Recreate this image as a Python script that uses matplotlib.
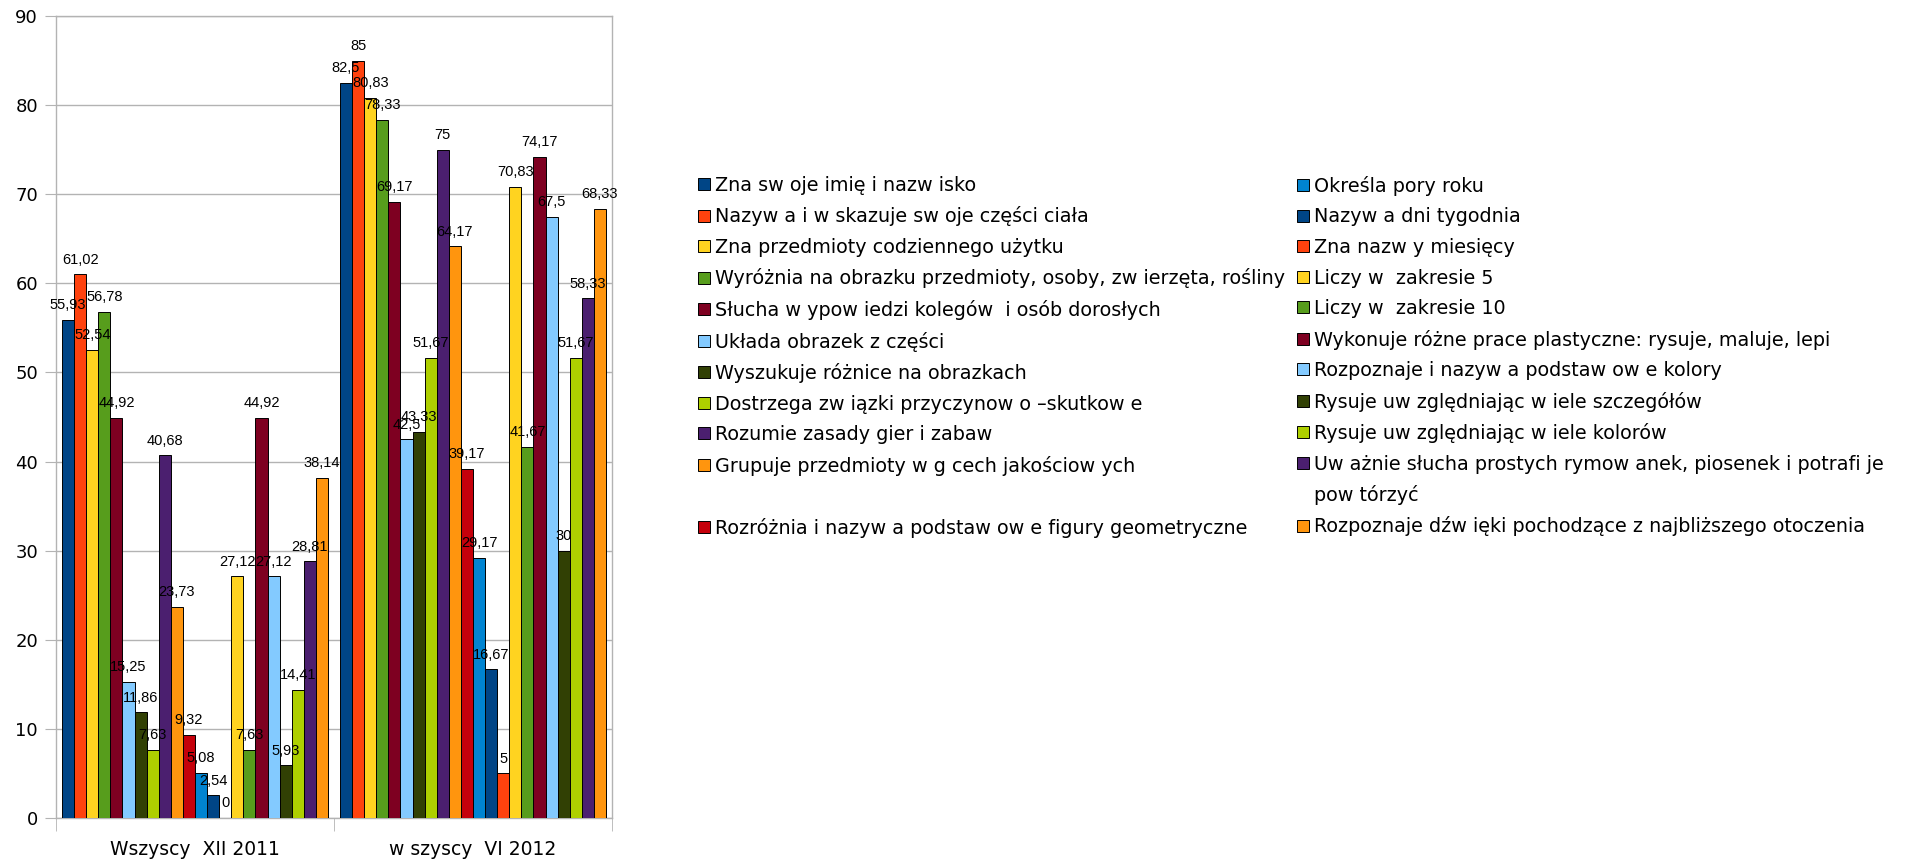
import numpy as np
import matplotlib
matplotlib.use("Agg")
import matplotlib.pyplot as plt
from matplotlib.patches import Rectangle

plt.rcParams['font.family'] = ['DejaVu Sans']

groups = ['Wszyscy  XII 2011', 'w szyscy  VI 2012']

labels = [
    'Zna sw oje imię i nazw isko',
    'Nazyw a i w skazuje sw oje części ciała',
    'Zna przedmioty codziennego użytku',
    'Wyróżnia na obrazku przedmioty, osoby, zw ierzęta, rośliny',
    'Słucha w ypow iedzi kolegów  i osób dorosłych',
    'Układa obrazek z części',
    'Wyszukuje różnice na obrazkach',
    'Dostrzega zw iązki przyczynow o –skutkow e',
    'Rozumie zasady gier i zabaw',
    'Grupuje przedmioty w g cech jakościow ych',
    'Rozróżnia i nazyw a podstaw ow e figury geometryczne',
    'Określa pory roku',
    'Nazyw a dni tygodnia',
    'Zna nazw y miesięcy',
    'Liczy w  zakresie 5',
    'Liczy w  zakresie 10',
    'Wykonuje różne prace plastyczne: rysuje, maluje, lepi',
    'Rozpoznaje i nazyw a podstaw ow e kolory',
    'Rysuje uw zględniając w iele szczegółów',
    'Rysuje uw zględniając w iele kolorów',
    'Uw ażnie słucha prostych rymow anek, piosenek i potrafi je',
    'Rozpoznaje dźw ięki pochodzące z najbliższego otoczenia',
]
wrap_rest = 'pow tórzyć'

xii_2011 = [55.93, 61.02, 52.54, 56.78, 44.92, 15.25, 11.86, 7.63, 40.68, 23.73, 9.32,
            5.08, 2.54, 0, 27.12, 7.63, 44.92, 27.12, 5.93, 14.41, 28.81, 38.14]
vi_2012 = [82.5, 85, 80.83, 78.33, 69.17, 42.5, 43.33, 51.67, 75, 64.17, 39.17,
           29.17, 16.67, 5, 70.83, 41.67, 74.17, 67.5, 30, 51.67, 58.33, 68.33]

palette = ['#004586', '#ff420e', '#ffd320', '#579d1c', '#7e0021', '#83caff',
           '#314004', '#aecf00', '#4b1f6f', '#ff950e', '#c5000b', '#0084d1']
colors = [palette[i % len(palette)] for i in range(len(labels))]

fig = plt.figure(figsize=(19.12, 8.64), dpi=100)
ax = fig.add_axes([56/1912, 1-818/864, (612-56)/1912, (818-16)/864])

n = len(labels)
w = 0.957 / n
x = np.arange(len(groups))
grey = '#b3b3b3'

for i in range(n):
    vals = [xii_2011[i], vi_2012[i]]
    b = ax.bar(x + (i - (n - 1) / 2) * w, vals, w, color=colors[i],
               edgecolor='black', linewidth=0.7, zorder=3)
    ax.bar_label(b, labels=[f"{v:g}".replace('.', ',') for v in vals],
                 padding=5.5, fontsize=10.5, family='Liberation Sans', zorder=4)

ax.set_xlim(-0.5, 1.5)
ax.set_ylim(0, 90)
ax.set_yticks(range(0, 91, 10))
ax.yaxis.grid(True, color=grey, linewidth=1, zorder=0)
ax.set_xticks(x)
ax.set_xticklabels(groups, fontsize=13.5)
ax.set_xticks([-0.5, 0.5, 1.5], minor=True)
ax.tick_params(axis='x', which='major', length=0, pad=16)
ax.tick_params(axis='x', which='minor', length=9, color=grey)
ax.tick_params(axis='y', length=8, color=grey, labelsize=13, pad=5)
for s in ax.spines.values():
    s.set_color(grey)
    s.set_linewidth(1)

# legend as two columns; filler rows keep the wrapped label aligned
handles = [Rectangle((0, 0), 1, 1, facecolor=c, edgecolor='black', linewidth=0.7) for c in colors]
blank = Rectangle((0, 0), 1, 1, visible=False)
h_left = handles[:10] + [blank, handles[10]]
l_left = labels[:10] + [' ', labels[10]]
h_right = handles[11:21] + [blank, handles[21]]
l_right = labels[11:21] + [wrap_rest, labels[21]]
leg_kw = dict(loc='upper left', frameon=False, fontsize=13.8, borderpad=0, borderaxespad=0,
              handlelength=0.62, handleheight=0.62, handletextpad=0.27, labelspacing=0.6)
fig.legend(h_left, l_left, bbox_to_anchor=(698/1912, 1-176/864), **leg_kw)
fig.legend(h_right, l_right, bbox_to_anchor=(1297/1912, 1-176/864), **leg_kw)

fig.savefig('out.png', dpi=100)
